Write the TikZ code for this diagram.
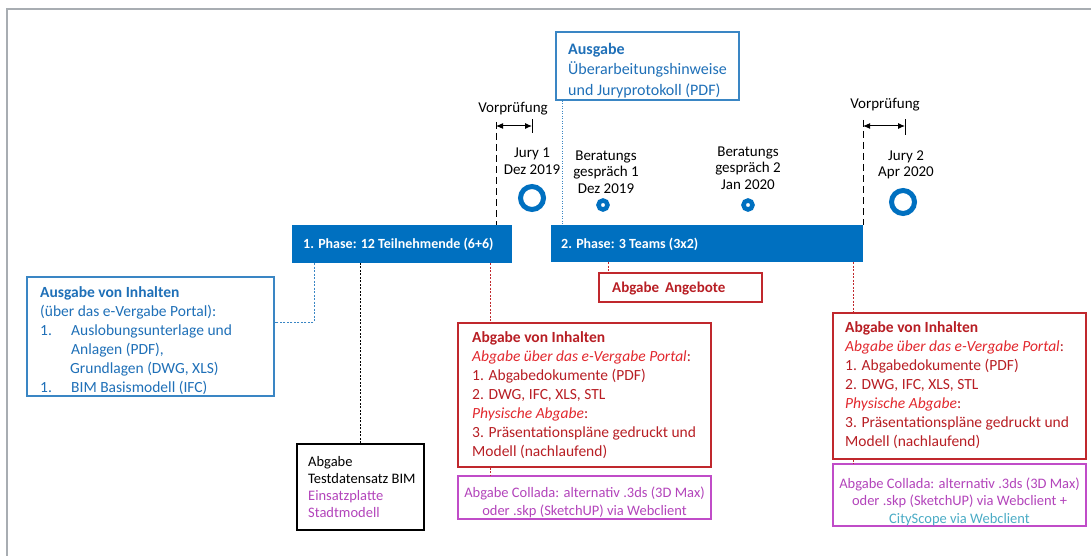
\documentclass[tikz,border=0pt]{standalone}
\usepackage{fontspec}
\setmainfont{Carlito}
\usetikzlibrary{arrows.meta}
\definecolor{phblue}{HTML}{0070C0}
\definecolor{bluetxt}{HTML}{1F70B8}
\definecolor{blueline}{HTML}{3A86C4}
\definecolor{redline}{HTML}{C0282D}
\definecolor{redtxt}{HTML}{B81E24}
\definecolor{reditl}{HTML}{E2282E}
\definecolor{purp}{HTML}{C04CC8}
\definecolor{purptxt}{HTML}{B344BB}
\definecolor{cyantxt}{HTML}{4BACC6}
\definecolor{framegray}{HTML}{A8ADB2}
\begin{document}
\begin{tikzpicture}[x=1pt,y=-1pt,
  lbl/.style={font=\fontsize{15}{16.5}\selectfont, align=center, inner sep=0},
  txt/.style={inner sep=0, anchor=north west, align=left, font=\fontsize{15.5}{19}\selectfont},
  bartxt/.style={anchor=west, inner sep=0, text=white, font=\fontsize{14}{16}\selectfont\bfseries},
  phasebar/.style={fill=phblue, draw=none, inner sep=0},
  bluebox/.style={draw=blueline, line width=1.1pt, inner sep=0},
  redbox/.style={draw=redline, line width=1.2pt, inner sep=0},
  purpbox/.style={draw=purp, line width=1.1pt, inner sep=0},
  blackbox/.style={draw=black, line width=1.1pt, inner sep=0},
  conn/.style={line width=0.9pt, dash pattern=on 2pt off 1.5pt},
  vline/.style={line width=1pt, dash pattern=on 7pt off 4pt},
  bigring/.style={circle, draw=phblue, line width=5pt, minimum size=23pt, inner sep=0},
  smallring/.style={circle, draw=phblue, line width=4.5pt, minimum size=9pt, inner sep=0},
  dimarrow/.style={line width=1pt, {Latex[length=7pt,width=6pt]}-{Latex[length=7pt,width=6pt]}}
]
\useasboundingbox (0,0) rectangle (1091,556);
\fill[white] (0,0) rectangle (1091,556);
\draw[framegray, line width=2pt] (7,556) -- (7,9) -- (1091,9);

% phase bars
\node[phasebar, minimum width=220pt, minimum height=38pt] (ph1) at (402,244) {};
\node[bartxt] (ph1t) at (303,244) {1. Phase: 12 Teilnehmende (6+6)};
\node[phasebar, minimum width=312pt, minimum height=37pt] (ph2) at (707,243.5) {};
\node[bartxt] (ph2t) at (561,244) {2. Phase: 3 Teams (3x2)};

% top blue box
\node[bluebox, minimum width=183pt, minimum height=68pt] (ausg) at (647.5,66) {};
\node[txt, text=bluetxt, font=\fontsize{16}{20.5}\selectfont] (ausgt) at (568,43) {\textbf{Ausgabe}\\Überarbeitungshinweise\\und Juryprotokoll (PDF)};

% left blue box
\node[bluebox, minimum width=247pt, minimum height=119pt] (bl) at (150.5,336.5) {};
\node[txt, text=bluetxt] (blt) at (40,286) {\textbf{Ausgabe von Inhalten}\\(über das e-Vergabe Portal):\\\makebox[31pt][l]{1.}Auslobungsunterlage und\\\hspace*{31pt}Anlagen (PDF),\\\hspace*{30pt}Grundlagen (DWG, XLS)\\\makebox[31pt][l]{1.}BIM Basismodell (IFC)};

% black box
\node[blackbox, minimum width=127pt, minimum height=86pt] (bk) at (360.5,487) {};
\node[txt, font=\fontsize{14.5}{17}\selectfont] (bkt) at (308,456) {Abgabe\\Testdatensatz BIM\\\textcolor{purptxt}{Einsatzplatte}\\\textcolor{purptxt}{Stadtmodell}};

% Abgabe Angebote
\node[redbox, minimum width=163pt, minimum height=29pt] (ang) at (680.5,287.5) {};
\node[anchor=west, inner sep=0, text=redtxt, font=\fontsize{15}{16}\selectfont\bfseries] (angt) at (612,289) {Abgabe\, Angebote};

% middle red box
\node[redbox, minimum width=253pt, minimum height=144pt] (rm) at (584.5,395) {};
\node[txt, text=redtxt] (rmt) at (472,331) {\textbf{Abgabe von Inhalten}\\\textcolor{reditl}{\itshape Abgabe über das e-Vergabe Portal}:\\1. Abgabedokumente (PDF)\\2. DWG, IFC, XLS, STL\\\textcolor{reditl}{\itshape Physische Abgabe}:\\3. Präsentationspläne gedruckt und\\Modell (nachlaufend)};
\node[purpbox, minimum width=253pt, minimum height=43pt] (pm) at (584.5,497.5) {};
\node[lbl, text=purptxt, font=\fontsize{14.5}{18}\selectfont] (pmt) at (584.5,502.5) {Abgabe Collada: alternativ .3ds (3D Max)\\oder .skp (SketchUP) via Webclient};

% right red box
\node[redbox, minimum width=253pt, minimum height=146pt] (rr) at (959.5,386) {};
\node[txt, text=redtxt] (rrt) at (845,321) {\textbf{Abgabe von Inhalten}\\\textcolor{reditl}{\itshape Abgabe über das e-Vergabe Portal}:\\1. Abgabedokumente (PDF)\\2. DWG, IFC, XLS, STL\\\textcolor{reditl}{\itshape Physische Abgabe}:\\3. Präsentationspläne gedruckt und\\Modell (nachlaufend)};
\node[purpbox, minimum width=253pt, minimum height=62pt] (pr) at (959.5,495) {};
\node[lbl, text=purptxt, font=\fontsize{14.5}{17.5}\selectfont] (prt) at (959.5,501.5) {Abgabe Collada: alternativ .3ds (3D Max)\\oder .skp (SketchUP) via Webclient +\\\textcolor{cyantxt}{CityScope via Webclient}};

% timeline labels
\node[lbl] (vp1) at (513,109) {Vorprüfung};
\node[lbl] (j1t) at (532,161) {Jury 1\\Dez 2019};
\node[bigring] (j1) at (532,198) {};
\node[lbl] (b1t) at (606,172) {Beratungs\\gespräch 1\\Dez 2019};
\node[smallring] (b1) at (603,205) {};
\node[lbl] (b2t) at (748,168) {Beratungs\\gespräch 2\\Jan 2020};
\node[smallring] (b2) at (748,205) {};
\node[lbl] (vp2) at (885,105) {Vorprüfung};
\node[lbl] (j2t) at (906,165) {Jury 2\\Apr 2020};
\node[bigring] (j2) at (903,202) {};

% Vorpruefung markers
\coordinate (v1) at (496,122);
\coordinate (v1e) at (532,126);
\coordinate (v2) at (863,120);
\coordinate (v2e) at (905,126);
\draw[vline] (v1) -- (v1 |- ph1.north);
\draw[dimarrow] (v1 |- v1e) -- (v1e);
\draw[line width=1pt] ([yshift=-7pt]v1e) -- ([yshift=7pt]v1e);
\draw[vline] (v2) -- (v2 |- ph2.north);
\draw[dimarrow] (v2 |- v2e) -- (v2e);
\draw[line width=1pt] ([yshift=-9pt]v2e) -- ([yshift=7pt]v2e);

% connectors
\coordinate (cb) at (314,322);
\draw[conn, blueline] (cb |- ph1.south) -- (cb) -- (cb -| bl.east);
\draw[conn, black] (bk.north) -- (bk.north |- ph1.south);
\coordinate (cr1) at (490,0);
\draw[conn, redline] (cr1 |- ph1.south) -- (cr1 |- rm.north);
\draw[conn, redline] (cr1 |- rm.south) -- (cr1 |- pm.north);
\coordinate (ca) at (608,0);
\draw[conn, redline] (ca |- ph2.south) -- (ca |- ang.north);
\coordinate (cr2) at (853,0);
\draw[conn, redline] (cr2 |- ph2.south) -- (cr2 |- rr.north);
\draw[conn, redline] (cr2 |- rr.south) -- (cr2 |- pr.north);
\coordinate (ct) at (562,0);
\draw[conn, blueline, dash pattern=on 1pt off 1.5pt] (ct |- ausg.south) -- (ct |- ph2.north);
\end{tikzpicture}
\end{document}
